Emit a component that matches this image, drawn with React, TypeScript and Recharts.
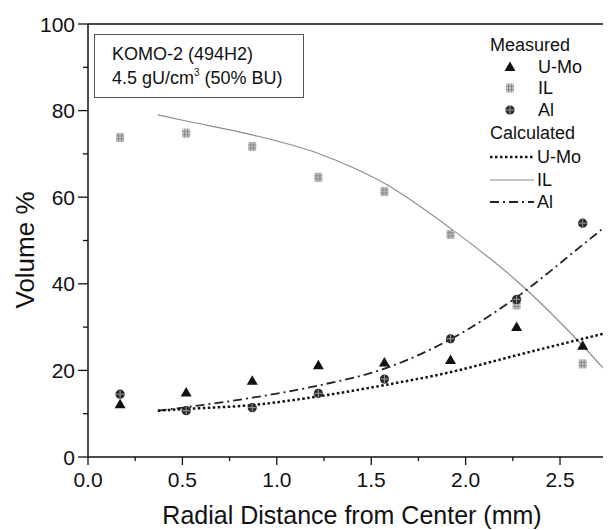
import {
  ComposedChart,
  Line,
  Scatter,
  XAxis,
  YAxis,
  ReferenceLine,
} from "recharts"

// measured positions (mm) and volume %
const measuredX = [0.17, 0.52, 0.87, 1.22, 1.57, 1.92, 2.27, 2.62]
const umoMeasured = [12.2, 14.9, 17.6, 21.2, 21.8, 22.4, 30.0, 25.7]
const ilMeasured = [73.8, 74.8, 71.7, 64.6, 61.3, 51.4, 35.1, 21.5]
const alMeasured = [14.5, 10.7, 11.4, 14.7, 18.0, 27.3, 36.4, 54.0]

// calculated curves
const calcX = [0.37, 0.52, 0.87, 1.22, 1.57, 1.92, 2.27, 2.62, 2.77]
const umoCalc = [10.7, 11.1, 12.0, 14.0, 16.6, 19.6, 23.5, 27.3, 28.9]
const ilCalc = [79.0, 77.6, 74.4, 70.1, 63.2, 52.8, 40.7, 25.7, 18.5]
const alCalc = [10.7, 11.5, 13.7, 16.5, 20.4, 27.2, 36.9, 49.0, 54.3]

const xTicks = [0, 0.25, 0.5, 0.75, 1, 1.25, 1.5, 1.75, 2, 2.25, 2.5, 2.75]
const yTicks = [0, 10, 20, 30, 40, 50, 60, 70, 80, 90, 100]

const zip = (xs: number[], ys: number[]) => xs.map((x, i) => ({ x, y: ys[i] }))

const FONT = "'Liberation Sans', Arial, sans-serif"
const INK = "#111"

function Triangle({ cx, cy }: { cx: number; cy: number }) {
  return <path d={`M${cx},${cy - 5.5} L${cx + 5.5},${cy + 4} L${cx - 5.5},${cy + 4} Z`} fill={INK} />
}

function HatchSquare({ cx, cy }: { cx: number; cy: number }) {
  return (
    <g>
      <rect x={cx - 4} y={cy - 4.5} width={8} height={9} fill="#c4c4c4" />
      <path
        d={`M${cx - 4},${cy - 1.5} H${cx + 4} M${cx - 4},${cy + 1.5} H${cx + 4} M${cx - 1.5},${cy - 4.5} V${cy + 4.5} M${cx + 1.5},${cy - 4.5} V${cy + 4.5}`}
        stroke="#8a8a8a"
        strokeWidth={1}
      />
    </g>
  )
}

function CrossCircle({ cx, cy }: { cx: number; cy: number }) {
  return (
    <g>
      <circle cx={cx} cy={cy} r={4.6} fill="#2a2a2a" />
      <path d={`M${cx - 4},${cy} H${cx + 4} M${cx},${cy - 4} V${cy + 4}`} stroke="#9a9a9a" strokeWidth={1} />
    </g>
  )
}

function YTick(props: any) {
  const { x, y, payload } = props
  const major = payload.value % 20 === 0
  return (
    <g>
      <line x1={x - (major ? 10 : 5)} x2={x} y1={y} y2={y} stroke={INK} strokeWidth={1.3} />
      {major && (
        <text x={x - 13} y={y + 7.5} textAnchor="end" fontSize={21} fontFamily={FONT} fill={INK}>
          {payload.value}
        </text>
      )}
    </g>
  )
}

function XTick(props: any) {
  const { x, y, payload } = props
  const v = payload.value as number
  const major = Math.abs(v * 2 - Math.round(v * 2)) < 1e-6
  return (
    <g>
      <line x1={x} x2={x} y1={y} y2={y + (major ? 8 : 4)} stroke={INK} strokeWidth={1.3} />
      {major && (
        <text x={x} y={y + 30} textAnchor="middle" fontSize={21} fontFamily={FONT} fill={INK}>
          {v.toFixed(1)}
        </text>
      )}
    </g>
  )
}

function Overlay() {
  const t = { fontFamily: FONT, fill: INK }
  return (
    <svg
      width={611}
      height={530}
      style={{ position: "absolute", left: -8, top: -8, pointerEvents: "none" }}
    >
      {/* info box */}
      <rect x={94.5} y={34.5} width={209} height={63} fill="#fff" stroke="#555" strokeWidth={1} />
      <text x={112} y={60} fontSize={18} {...t}>KOMO-2 (494H2)</text>
      <text x={112} y={84} fontSize={18} {...t}>
        4.5 gU/cm<tspan dy={-8} fontSize={10}>3</tspan>
        <tspan dy={8}> (50% BU)</tspan>
      </text>

      {/* legend */}
      <text x={490} y={51} fontSize={18} {...t}>Measured</text>
      <Triangle cx={510} cy={67} />
      <text x={538} y={73} fontSize={18} {...t}>U-Mo</text>
      <HatchSquare cx={510} cy={88} />
      <text x={538} y={94} fontSize={18} {...t}>IL</text>
      <CrossCircle cx={510} cy={110} />
      <text x={538} y={116} fontSize={18} {...t}>Al</text>
      <text x={490} y={139} fontSize={18} {...t}>Calculated</text>
      <line x1={490} x2={534} y1={157} y2={157} stroke={INK} strokeWidth={2.5} strokeDasharray="2.5 2.5" />
      <text x={537} y={163} fontSize={18} {...t}>U-Mo</text>
      <line x1={490} x2={534} y1={180} y2={180} stroke="#8c8c8c" strokeWidth={1.2} />
      <text x={537} y={186} fontSize={18} {...t}>IL</text>
      <line x1={490} x2={534} y1={202} y2={202} stroke="#222" strokeWidth={1.8} strokeDasharray="9 4 2 4" />
      <text x={537} y={208} fontSize={18} {...t}>Al</text>

      {/* axis titles */}
      <text x={352} y={524} fontSize={25} textAnchor="middle" {...t}>
        Radial Distance from Center (mm)
      </text>
      <text x={34} y={250} fontSize={26} textAnchor="middle" transform="rotate(-90 34 250)" {...t}>
        Volume %
      </text>
    </svg>
  )
}

export default function App() {
  return (
    <div style={{ position: "relative", width: 603, height: 522 }}>
      <ComposedChart width={603} height={522} margin={{ top: 16, right: 0, bottom: 0, left: 0 }}>
        <XAxis
          type="number"
          dataKey="x"
          domain={[0, 2.77]}
          ticks={xTicks}
          interval={0}
          allowDataOverflow
          height={73}
          tickSize={0}
          tickMargin={0}
          tickLine={false}
          tick={(p: any) => <XTick {...p} />}
          axisLine={{ stroke: INK, strokeWidth: 1.5 }}
        />
        <YAxis
          type="number"
          domain={[0, 100]}
          ticks={yTicks}
          interval={0}
          width={80}
          tickSize={0}
          tickMargin={0}
          tickLine={false}
          tick={(p: any) => <YTick {...p} />}
          axisLine={{ stroke: INK, strokeWidth: 1.5 }}
        />
        <ReferenceLine y={100} stroke={INK} strokeWidth={1.5} />

        <Line
          data={zip(calcX, ilCalc)}
          dataKey="y"
          type="monotone"
          stroke="#8c8c8c"
          strokeWidth={1.2}
          dot={false}
          isAnimationActive={false}
        />
        <Line
          data={zip(calcX, alCalc)}
          dataKey="y"
          type="monotone"
          stroke="#222"
          strokeWidth={1.8}
          strokeDasharray="9 4 2 4"
          dot={false}
          isAnimationActive={false}
        />
        <Line
          data={zip(calcX, umoCalc)}
          dataKey="y"
          type="monotone"
          stroke={INK}
          strokeWidth={2.5}
          strokeDasharray="2.5 2.5"
          dot={false}
          isAnimationActive={false}
        />

        <Scatter
          data={zip(measuredX, ilMeasured)}
          dataKey="y"
          shape={(p: any) => <HatchSquare cx={p.cx} cy={p.cy} />}
          isAnimationActive={false}
        />
        <Scatter
          data={zip(measuredX, alMeasured)}
          dataKey="y"
          shape={(p: any) => <CrossCircle cx={p.cx} cy={p.cy} />}
          isAnimationActive={false}
        />
        <Scatter
          data={zip(measuredX, umoMeasured)}
          dataKey="y"
          shape={(p: any) => <Triangle cx={p.cx} cy={p.cy} />}
          isAnimationActive={false}
        />
      </ComposedChart>
      <Overlay />
    </div>
  )
}
